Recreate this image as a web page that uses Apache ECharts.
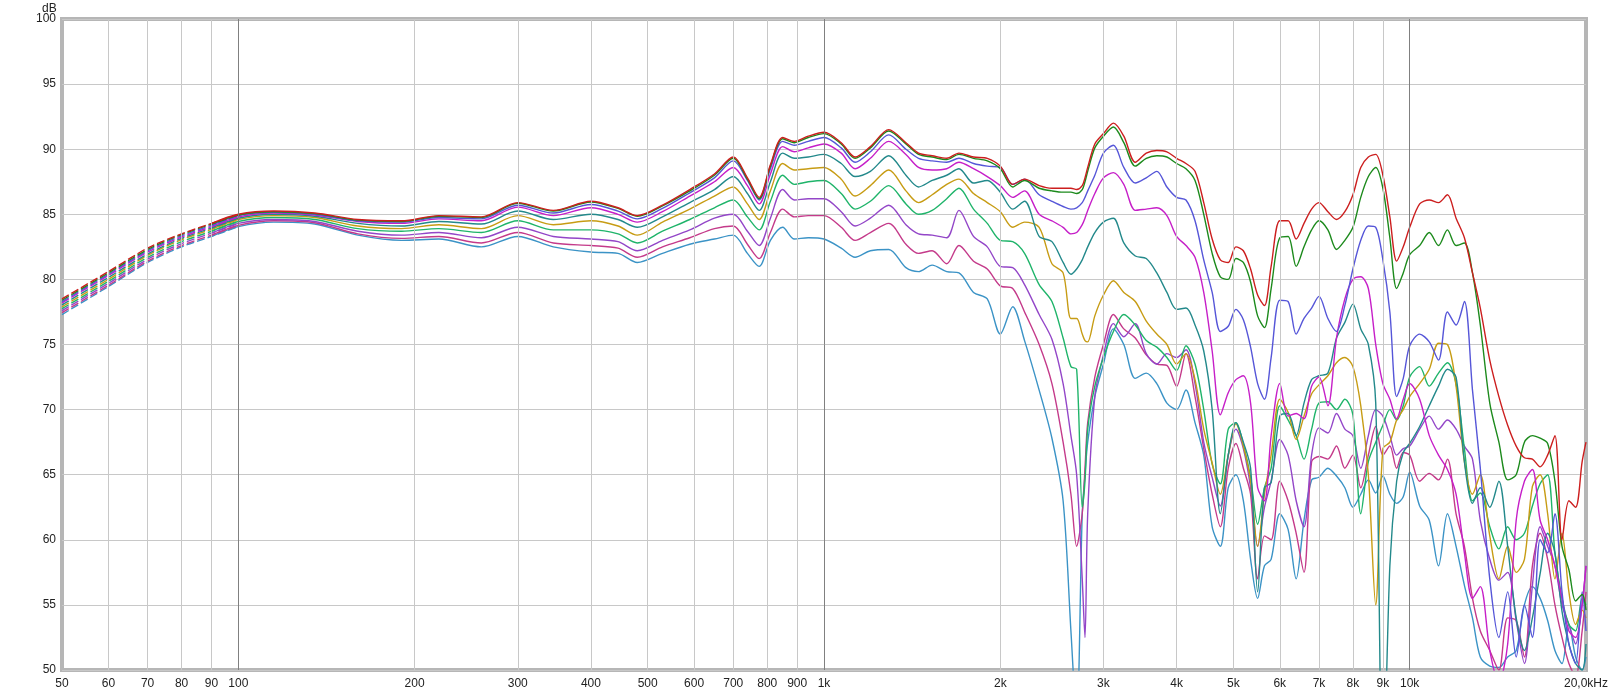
<!DOCTYPE html>
<html><head><meta charset="utf-8">
<script src="https://cdn.jsdelivr.net/npm/echarts@6/dist/echarts.min.js"></script>
<style>html,body{margin:0;padding:0;background:#fff}#c{width:1617px;height:696px}</style>
</head><body><div id="c"></div>
<script>
// Frequency grid (Hz)
const freqHz = [50,60,70,80,90,100,115,135,160,190,220,260,300,345,400,445,480,530,590,650,700,740,775,810,850,890,940,1000,1070,1130,1200,1290,1380,1450,1530,1620,1700,1800,1900,2000,
2100,2200,2330,2450,2560,2640,2700,2760,2790,2820,2900,3000,3120,3250,3400,3550,3700,3850,4000,4150,4300,4450,4600,4750,4900,
5050,5200,5350,5500,5650,5800,6000,6200,6400,6600,6800,7000,7250,7500,7750,8000,8250,8500,8750,9000,9250,9500,9750,10000,10400,10800,11200,11600,12000,12400,12800,13200,13700,14200,14700,15200,15700,16200,16700,17200,17700,18200,18700,19200,19700,20000];

// Levels in dB, one array per trace (top to bottom)
const redLevel = [78.5,80.6,82.4,83.5,84.3,85.0,85.25,85.1,84.6,84.5,84.9,84.8,85.9,85.3,86.0,85.5,84.9,85.7,86.9,88.1,89.4,87.8,86.3,88.8,90.9,90.6,91.0,91.3,90.5,89.4,90.2,91.5,90.5,89.7,89.5,89.3,89.7,89.4,89.3,88.7,
87.3,87.7,87.2,87.0,87.0,87.0,86.9,87.2,87.8,88.6,90.4,91.2,92.0,91.0,89.0,89.7,89.9,89.8,89.3,88.9,88.3,85.9,83.1,81.5,81.3,
82.5,82.2,80.8,78.8,78.0,81.0,84.5,84.5,83.1,84.3,85.4,85.9,85.2,84.6,85.2,86.5,88.6,89.4,89.6,88.0,84.8,81.4,82.5,84.0,85.8,86.1,85.9,86.5,84.7,83.2,80.5,77.8,73.8,71.0,68.8,67.2,66.3,66.2,65.6,66.5,68.0,60.0,63.0,62.5,66.0,67.5];
const greenLevel = [78.4,80.5,82.3,83.45,84.25,84.95,85.2,85.05,84.55,84.45,84.85,84.75,85.85,85.25,85.95,85.45,84.85,85.65,86.8,88.0,89.3,87.7,86.2,88.7,90.8,90.5,90.9,91.2,90.4,89.3,90.1,91.4,90.4,89.6,89.4,89.2,89.6,89.3,89.1,88.5,
87.1,87.6,87.0,86.8,86.7,86.7,86.6,86.9,87.5,88.3,90.1,91.0,91.7,90.5,88.7,89.3,89.5,89.4,88.9,88.5,87.6,85.0,82.0,80.2,80.0,
81.6,81.3,79.8,77.2,76.3,79.3,83.2,83.3,81.0,82.5,83.8,84.5,83.8,82.3,83.0,84.0,86.3,87.9,88.6,87.0,83.2,79.3,80.5,81.9,82.6,83.6,82.6,83.8,82.6,82.8,80.5,76.5,70.5,67.5,64.6,65.0,67.5,68.0,67.8,67.4,64.5,59.5,57.7,55.3,55.8,54.6];
const blueLevel = [78.3,80.4,82.2,83.35,84.15,84.9,85.15,85.0,84.5,84.4,84.75,84.65,85.7,85.1,85.75,85.25,84.65,85.45,86.65,87.8,89.1,87.6,86.1,88.5,90.6,90.3,90.6,90.9,90.1,89.0,89.8,91.1,90.0,89.3,89.1,89.0,89.3,88.9,88.7,88.6,
87.3,87.7,86.5,86.0,85.6,85.4,85.5,85.9,86.3,86.8,88.0,89.7,90.3,88.6,87.4,87.8,88.3,87.1,86.3,86.1,84.5,81.5,79.0,76.0,76.4,
77.7,76.9,74.8,72.0,70.8,74.0,78.4,78.3,75.8,77.0,77.8,78.7,77.0,76.0,78.0,80.8,83.0,84.1,84.0,81.5,77.5,71.0,72.4,74.9,75.8,75.2,73.8,77.5,76.5,78.3,71.5,65.5,57.0,52.5,56.0,51.0,55.0,52.5,60.0,59.0,62.0,56.0,52.0,50.5,56.0,53.0];
const magentaLevel = [78.2,80.3,82.1,83.25,84.05,84.8,85.1,84.95,84.45,84.3,84.65,84.5,85.55,84.9,85.5,85.0,84.4,85.2,86.4,87.5,88.6,87.2,85.8,88.1,90.2,89.8,90.1,90.4,89.7,88.5,89.3,90.6,89.6,88.6,88.4,88.5,89.0,88.5,87.9,87.2,
86.3,86.8,85.0,84.5,84.0,83.5,83.6,84.2,84.7,85.3,86.6,87.8,88.2,87.3,85.3,85.4,85.5,84.9,83.3,82.6,81.7,79.0,74.5,69.6,71.3,
72.3,72.6,70.5,64.0,63.0,68.0,72.0,69.5,69.7,69.3,71.8,72.5,70.3,75.5,78.5,80.0,80.2,79.3,75.0,72.0,70.8,69.3,70.8,72.0,70.8,68.0,66.5,65.4,63.5,59.0,55.5,56.4,51.5,49.0,52.0,61.5,64.5,65.4,61.5,60.0,58.0,55.5,53.0,52.5,55.0,58.0];
const tealLevel = [78.05,80.15,81.95,83.15,83.95,84.7,85.0,84.85,84.3,84.1,84.45,84.25,85.25,84.6,85.0,84.6,84.0,84.8,85.9,86.9,87.9,86.6,85.3,87.5,89.7,89.3,89.4,89.6,88.9,87.9,88.3,89.5,88.0,87.1,87.6,88.0,88.5,87.4,87.6,86.7,
85.4,86.0,83.3,82.9,81.3,80.4,80.8,81.5,82.0,82.5,83.6,84.4,84.7,82.8,81.8,81.6,80.5,79.0,77.7,77.8,76.5,74.5,70.0,62.0,66.5,
69.0,67.5,65.5,56.0,64.0,64.4,69.5,69.7,68.0,70.5,72.3,72.6,72.8,75.5,76.7,78.1,76.2,75.0,70.5,40.0,58.0,64.5,66.7,67.4,68.7,70.3,71.8,73.1,72.5,66.0,62.8,64.0,62.5,64.5,59.5,54.0,51.5,54.0,57.4,60.5,59.0,54.5,52.0,50.5,50.0,52.0];
const goldLevel = [77.9,80.0,81.85,83.05,83.85,84.6,84.9,84.75,84.1,83.9,84.2,83.9,84.9,84.2,84.5,84.1,83.4,84.4,85.4,86.4,87.1,85.8,84.6,86.8,88.9,88.4,88.5,88.6,87.7,86.4,87.2,88.4,86.8,85.9,86.5,87.3,87.7,86.6,85.9,85.2,
84.0,84.4,84.0,81.2,80.5,77.0,77.0,75.8,75.3,75.2,77.2,78.8,79.9,79.0,78.3,76.8,75.8,75.0,73.5,74.3,72.3,68.5,65.9,63.5,66.5,
68.9,67.2,64.5,59.5,63.5,66.5,70.8,69.8,67.7,69.5,71.2,71.9,72.6,73.6,74.0,73.3,70.3,65.0,55.0,67.0,67.5,69.2,70.0,71.0,72.0,73.1,75.1,75.0,71.8,66.0,63.5,65.0,60.3,57.0,59.5,57.5,58.5,64.1,65.0,62.0,57.0,60.5,56.0,53.5,54.6,54.0];
const seaGreenLevel = [77.75,79.85,81.7,82.9,83.7,84.45,84.75,84.6,83.9,83.7,83.9,83.6,84.5,83.8,83.8,83.5,82.8,83.7,84.6,85.5,86.1,84.8,83.8,86.0,88.0,87.3,87.5,87.6,86.6,85.4,86.0,87.2,85.8,85.0,85.3,86.2,87.0,85.4,84.3,83.0,
82.9,82.0,79.6,78.3,75.5,73.3,73.1,62.5,64.5,68.5,71.8,74.0,76.0,77.3,76.5,75.3,74.8,74.0,73.0,74.9,73.5,70.0,65.8,64.3,68.5,
69.0,67.3,64.8,61.2,64.0,65.5,70.3,69.2,68.0,66.2,68.5,70.5,70.6,70.0,70.8,69.6,62.0,66.0,67.5,68.8,70.0,69.2,70.3,72.5,73.3,71.8,72.8,73.6,72.0,67.0,63.0,63.6,61.0,59.3,61.0,60.0,60.5,62.6,64.3,65.0,59.0,55.5,53.5,53.0,55.5,55.0];
const purpleLevel = [77.6,79.7,81.55,82.75,83.55,84.3,84.6,84.45,83.7,83.4,83.6,83.2,84.0,83.3,83.1,82.9,82.2,83.0,83.8,84.7,85.0,83.7,82.6,84.7,86.9,86.1,86.2,86.2,85.2,84.1,84.7,85.7,84.2,83.5,83.4,83.2,85.3,83.3,82.5,81.0,
80.9,79.6,77.3,75.4,72.0,68.0,65.0,57.0,52.5,62.0,71.0,74.2,76.6,75.6,76.6,74.3,73.5,74.3,74.0,74.6,72.0,67.5,64.8,62.6,66.5,
68.5,67.0,64.0,59.5,62.5,64.5,67.7,66.5,63.0,61.0,66.5,68.6,68.2,69.7,68.5,68.0,65.5,68.0,70.0,69.5,68.0,66.5,67.0,67.2,68.5,69.5,68.5,69.2,68.5,67.2,66.2,61.5,58.5,56.9,57.5,53.8,50.5,56.5,61.0,59.5,58.0,55.0,53.5,52.0,55.1,58.0];
const pinkLevel = [77.45,79.55,81.4,82.6,83.4,84.15,84.5,84.35,83.5,83.15,83.3,82.8,83.6,82.8,82.6,82.4,81.7,82.5,83.2,83.9,84.1,82.7,81.6,83.6,85.4,84.8,84.9,84.9,84.0,83.0,83.6,84.3,82.7,82.0,82.2,81.2,82.6,81.4,80.8,79.5,
79.3,77.5,75.0,72.0,67.5,63.5,59.5,62.0,65.5,69.0,72.5,75.0,77.3,76.2,75.5,74.2,73.5,73.4,71.8,74.3,71.0,67.0,63.5,61.0,65.5,
67.4,65.5,63.5,57.0,60.3,60.0,64.5,63.0,60.5,57.5,66.0,66.4,66.2,67.2,65.5,66.5,64.0,66.5,68.7,66.5,67.2,65.5,66.7,66.5,64.5,65.1,64.6,66.2,62.0,59.5,55.5,53.0,51.5,50.0,54.0,53.8,51.0,58.0,60.5,58.5,55.0,52.5,50.5,49.5,53.0,56.0];
const steelLevel = [77.3,79.45,81.3,82.5,83.3,84.05,84.4,84.25,83.4,83.0,83.1,82.5,83.3,82.5,82.1,82.0,81.3,82.0,82.7,83.1,83.4,82.0,81.0,83.0,84.0,83.1,83.2,83.1,82.4,81.7,82.2,82.3,80.9,80.6,81.1,80.6,80.5,79.0,78.5,75.8,
77.9,75.3,71.5,67.8,63.0,53.0,46.0,62.0,65.0,67.5,71.0,73.5,76.2,75.0,72.4,72.8,72.0,70.5,70.0,71.5,69.0,66.5,61.0,59.5,64.0,
65.0,63.0,58.5,55.5,58.0,58.5,62.0,60.8,57.0,61.5,64.6,64.8,65.5,64.9,64.0,62.5,63.5,64.6,63.6,64.9,63.5,62.8,63.3,65.2,62.6,61.5,58.0,62.0,59.5,56.5,54.0,51.0,50.3,50.2,51.0,51.5,55.0,56.4,55.5,53.8,51.5,50.5,53.5,51.0,50.0,51.0];

// Axis ticks / labels
const xTickValues = [50.001,60,70,80,90,100,200,300,400,500,600,700,800,900,1000,2000,3000,4000,5000,6000,7000,8000,9000,10000,19999.9];
const xMinorGrid = [60,70,80,90,200,300,400,500,600,700,800,900,2000,3000,4000,5000,6000,7000,8000,9000];
const xMajorGrid = [100,1000,10000];
const dashedEndHz = 90;

const traces = [
  {name:'steel',  values: steelLevel,   color:'#3b93c6'},
  {name:'pink',   values: pinkLevel,    color:'#c43a8a'},
  {name:'purple', values: purpleLevel,  color:'#9346c8'},
  {name:'seagreen',values: seaGreenLevel,color:'#1fb46a'},
  {name:'gold',   values: goldLevel,    color:'#c79c14'},
  {name:'teal',   values: tealLevel,    color:'#23898b'},
  {name:'magenta',values: magentaLevel, color:'#c61fc8'},
  {name:'blue',   values: blueLevel,    color:'#5656d8'},
  {name:'green',  values: greenLevel,   color:'#1c8a1c'},
  {name:'red',    values: redLevel,     color:'#cc1e1e'}
];

function fmtX(v){
  const r = Math.round(v);
  if (r >= 19999) return '20,0kHz';
  if (r >= 1000) return (r/1000) + 'k';
  return String(r);
}

const series = [];
series.push({
  type:'line', data:[[1000,20]], z:1, silent:true, symbol:'none', lineStyle:{opacity:0},
  markLine:{silent:true, symbol:['none','none'], animation:false, label:{show:false},
    emphasis:{disabled:true},
    lineStyle:{color:'#c8c8c8', width:1, type:'solid'},
    data: xMinorGrid.map(v => ({xAxis: v}))}
});
series.push({
  type:'line', data:[[1000,20]], z:1, silent:true, symbol:'none', lineStyle:{opacity:0},
  markLine:{silent:true, symbol:['none','none'], animation:false, label:{show:false},
    emphasis:{disabled:true},
    lineStyle:{color:'#808080', width:1, type:'solid'},
    data: xMajorGrid.map(v => ({xAxis: v}))}
});
traces.forEach(t => {
  const pts = freqHz.map((f, i) => [f, t.values[i]]);
  series.push({
    name: t.name + '-lf', type:'line', symbol:'none', silent:true, z:3,
    smooth:0.3,
    data: pts.filter(p => p[0] <= 100),
    lineStyle:{color:t.color, width:1.4, type:[8,3]}
  });
  series.push({
    name: t.name, type:'line', symbol:'none', silent:true, z:3,
    smooth:0.3,
    data: pts.filter(p => p[0] >= dashedEndHz),
    lineStyle:{color:t.color, width:1.4}
  });
});

const chart = echarts.init(document.getElementById('c'), null, {renderer:'canvas'});
chart.setOption({
  animation:false,
  backgroundColor:'#ffffff',
  title:{text:'dB', left:42, top:3, padding:0,
    textStyle:{fontSize:12, fontWeight:'normal', color:'#222', fontFamily:'Liberation Sans, Arial, sans-serif'}},
  grid:{left:62, right:31, top:19, bottom:26, show:true, borderColor:'#b6b6b6', borderWidth:4, containLabel:false},
  xAxis:{type:'log', logBase:10, min:50, max:20000,
    axisLine:{show:false}, axisTick:{show:false}, splitLine:{show:false},
    axisLabel:{customValues:xTickValues, formatter:fmtX, color:'#222', fontSize:12, margin:8,
      fontFamily:'Liberation Sans, Arial, sans-serif', showMinLabel:true, showMaxLabel:true}},
  yAxis:{type:'value', min:50, max:100, interval:5,
    axisLine:{show:false}, axisTick:{show:false},
    splitLine:{show:true, lineStyle:{color:'#c8c8c8', width:1}},
    axisLabel:{color:'#222', fontSize:12, margin:6, fontFamily:'Liberation Sans, Arial, sans-serif'}},
  series: series
});
</script>
</body></html>
